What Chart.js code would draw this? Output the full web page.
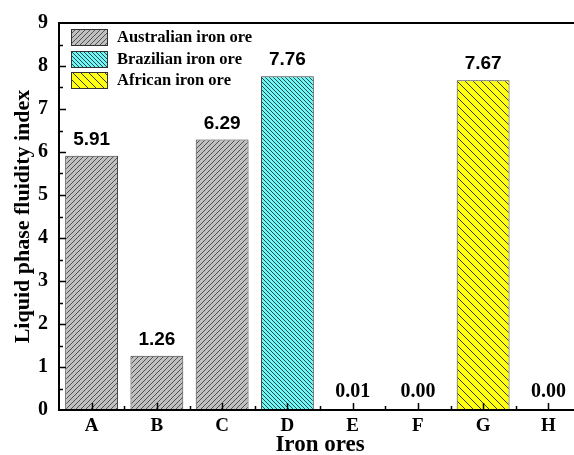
<!DOCTYPE html>
<html>
<head>
<meta charset="utf-8">
<script src="https://cdn.jsdelivr.net/npm/chart.js@4.4.1/dist/chart.umd.min.js"></script>
<style>
html,body{margin:0;padding:0;background:#fff;overflow:hidden;}
#wrap{position:relative;width:600px;height:455px;}
</style>
</head>
<body>
<div id="wrap"><canvas id="c" width="600" height="455"></canvas></div>
<script>
const categories = ['A','B','C','D','E','F','G','H'];
const values = [5.91, 1.26, 6.29, 7.76, 0.01, 0.00, 7.67, 0.00];
const valueLabels = ['5.91','1.26','6.29','7.76','0.01','0.00','7.67','0.00'];
const groupNames = ['Australian iron ore','Brazilian iron ore','African iron ore'];
const australian = [5.91, 1.26, 6.29, null, null, null, null, null];
const brazilian  = [null, null, null, 7.76, null, null, null, null];
const african    = [null, null, null, null, null, null, 7.67, null];
const unassigned = [null, null, null, null, 0.01, 0.00, null, 0.00];
const yTicks = [0,1,2,3,4,5,6,7,8,9];

function hatch(base, line, size, dir){
  const c = document.createElement('canvas');
  c.width = size; c.height = size;
  const g = c.getContext('2d');
  g.fillStyle = base; g.fillRect(0,0,size,size);
  g.strokeStyle = line; g.lineWidth = 1;
  g.beginPath();
  if (dir === '/') {
    g.moveTo(-1, size+1); g.lineTo(size+1, -1);
    g.moveTo(-1, 1); g.lineTo(1, -1);
    g.moveTo(size-1, size+1); g.lineTo(size+1, size-1);
  } else {
    g.moveTo(-1, -1); g.lineTo(size+1, size+1);
    g.moveTo(size-1, -1); g.lineTo(size+1, 1);
    g.moveTo(-1, size-1); g.lineTo(1, size+1);
  }
  g.stroke();
  return g.createPattern(c, 'repeat');
}
const ctx0 = document.getElementById('c').getContext('2d');
const fills = [
  hatch('#c0c0c0', '#505050', 5, '/'),
  hatch('#6ff6f6', '#2a4a4a', 4, '\\'),
  hatch('#ffff14', '#3a3a10', 8, '\\')
];

const serif = "'Liberation Serif','Times New Roman',serif";
const sans = "'Liberation Sans',Arial,sans-serif";

const framePlugin = {
  id: 'frame',
  afterDatasetsDraw(chart){
    const {ctx, chartArea: a, scales: {x, y}} = chart;
    ctx.save();
    ctx.strokeStyle = '#000';
    ctx.lineWidth = 2;
    ctx.strokeRect(a.left, a.top, a.right - a.left, a.bottom - a.top);
    ctx.lineWidth = 1.5;
    ctx.beginPath();
    for (let v = 0; v <= 9; v += 0.5) {
      const py = Math.round(y.getPixelForValue(v)) + 0.5;
      const len = (v % 1 === 0) ? 7 : 4;
      if (v === 0 || v === 9) continue;
      ctx.moveTo(a.left, py); ctx.lineTo(a.left + len, py);
    }
    for (let i = 0; i < categories.length; i++) {
      const px = Math.round(x.getPixelForValue(i)) + 0.5;
      ctx.moveTo(px, a.bottom); ctx.lineTo(px, a.bottom - 7);
      if (i > 0) {
        const bx = Math.round((x.getPixelForValue(i) + x.getPixelForValue(i-1))/2) + 0.5;
        ctx.moveTo(bx, a.bottom); ctx.lineTo(bx, a.bottom - 4);
      }
    }
    ctx.stroke();

    ctx.fillStyle = '#000';
    ctx.textAlign = 'center';
    ctx.textBaseline = 'alphabetic';
    for (let i = 0; i < values.length; i++) {
      const px = x.getPixelForValue(i);
      const py = y.getPixelForValue(values[i]);
      if (values[i] >= 0.1) {
        ctx.font = "bold 19px " + sans;
        ctx.fillText(valueLabels[i], px, py - 11);
      } else {
        ctx.font = "bold 20px " + serif;
        ctx.fillText(valueLabels[i], px, py - 13);
      }
    }

    const lx = a.left + 12, ly = a.top + 6, bw = 36, bh = 16, gap = 21.5;
    ctx.textAlign = 'left';
    ctx.textBaseline = 'middle';
    ctx.font = "bold 16.5px " + serif;
    for (let k = 0; k < groupNames.length; k++) {
      const top = Math.round(ly + k * gap);
      ctx.fillStyle = fills[k];
      ctx.fillRect(lx, top, bw, bh);
      ctx.strokeStyle = '#333';
      ctx.lineWidth = 1;
      ctx.strokeRect(lx + 0.5, top + 0.5, bw, bh);
      ctx.fillStyle = '#000';
      ctx.fillText(groupNames[k], lx + bw + 10, top + bh/2 + 1);
    }
    ctx.restore();
  }
};

const common = {barPercentage: 0.81, categoryPercentage: 1, borderColor: '#3a3a3a', borderWidth: 1, grouped: false};

new Chart(ctx0, {
  type: 'bar',
  data: {
    labels: categories,
    datasets: [
      Object.assign({label: groupNames[0], data: australian, backgroundColor: fills[0]}, common),
      Object.assign({label: groupNames[1], data: brazilian, backgroundColor: fills[1]}, common),
      Object.assign({label: groupNames[2], data: african, backgroundColor: fills[2]}, common),
      Object.assign({label: 'other', data: unassigned, backgroundColor: 'rgba(0,0,0,0)'}, common, {borderWidth: 0})
    ]
  },
  options: {
    responsive: false,
    animation: false,
    devicePixelRatio: 1,
    layout: {padding: {top: 23, right: 19, left: 0, bottom: 0}},
    plugins: {legend: {display: false}, tooltip: {enabled: false}},
    scales: {
      x: {
        grid: {display: false, drawTicks: false},
        border: {display: false},
        ticks: {color: '#000', font: {family: serif, size: 19, weight: 'bold'}, padding: 5},
        title: {display: true, text: 'Iron ores', color: '#000', font: {family: serif, size: 23, weight: 'bold', lineHeight: 0.9}, padding: {top: 0, bottom: 0}},
        afterFit(s){ s.height = 45; }
      },
      y: {
        min: 0, max: 9,
        afterBuildTicks(s){ s.ticks = yTicks.map(v => ({value: v})); },
        grid: {display: false, drawTicks: false},
        border: {display: false},
        ticks: {color: '#000', font: {family: serif, size: 20, weight: 'bold'}, padding: 11},
        title: {display: true, text: 'Liquid phase fluidity index', color: '#000', font: {family: serif, size: 22, weight: 'bold'}, padding: {top: 10, bottom: 0}},
        afterFit(s){ s.width = 59; }
      }
    }
  },
  plugins: [framePlugin]
});
</script>
</body>
</html>
